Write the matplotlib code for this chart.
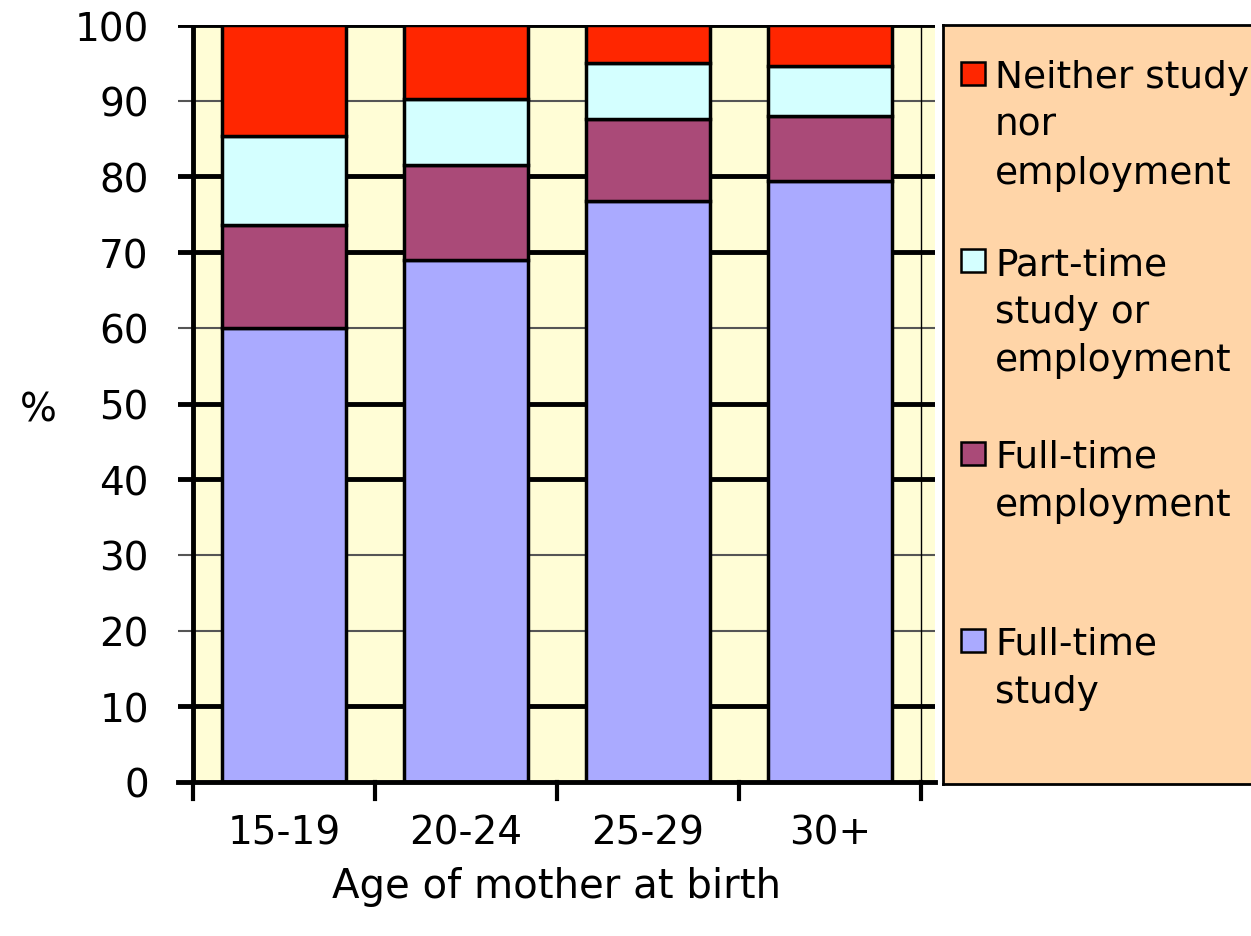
import numpy as np
import matplotlib
matplotlib.use("Agg")
import matplotlib.pyplot as plt
from matplotlib.patches import Rectangle

# %% data
ages = ["15-19", "20-24", "25-29", "30+"]
series = ["Full-time\nstudy", "Full-time\nemployment",
          "Part-time\nstudy or\nemployment", "Neither study\nnor\nemployment"]
ft_study = [60.0, 69.0, 76.7, 79.4]
ft_employ = [13.6, 12.5, 10.9, 8.6]
pt_study_employ = [11.8, 8.7, 7.4, 6.6]
neither = [14.6, 9.8, 5.0, 5.4]
colors = ["#AAAAFF", "#AA4A78", "#D4FFFF", "#FF2600"]

plt.rcParams['font.family'] = ['DejaVu Sans']

W, H = 1251, 937
fig = plt.figure(figsize=(W / 100, H / 100), dpi=100)

# plot area in pixel terms of the reference
left, right, top, bottom = 178, 935, 26, 783
ax = fig.add_axes([left / W, 1 - bottom / H, (right - left) / W, (bottom - top) / H])
ax.set_facecolor("#FFFDD6")
x = np.arange(len(ages))
xmin = -0.5 - 15 / 182
xmax = xmin + (right - left) / 182
ax.set_xlim(xmin, xmax)
ax.set_ylim(0, 100)
ax.axvspan(xmin, -0.5, color="white", zorder=0)

# horizontal grid, some thick some thin as in the original
for yv in range(10, 101, 10):
    if yv in (20, 30, 60, 90):
        ax.axhline(yv, color="#555555", lw=1.5, zorder=1)
    else:
        ax.axhline(yv, color="black", lw=3.5, zorder=1)
ax.axvline(-0.5, color="black", lw=3.5, zorder=1)
ax.axvline(3.5, color="black", lw=1, zorder=1)

stack = [ft_study, ft_employ, pt_study_employ, neither]
base = np.zeros(len(ages))
for vals, col in zip(stack, colors):
    ax.bar(x, vals, bottom=base, width=0.676, color=col,
           edgecolor="black", linewidth=2.5, zorder=2)
    base = base + np.array(vals)

for s in ax.spines.values():
    s.set_visible(False)
ax.axhline(0, color="black", lw=3.5, zorder=3, clip_on=False)

ax.set_yticks(range(0, 101, 10))
ax.tick_params(axis="y", length=0, labelsize=28, pad=21)
ax.set_xticks(x)
ax.set_xticklabels(ages)
ax.tick_params(axis="x", length=0, labelsize=28, pad=23)
for b in np.arange(-0.5, len(ages), 1.0):
    ax.plot([b, b], [0, -2.2], color="black", lw=3, clip_on=False, zorder=3)

ax.set_xlabel("Age of mother at birth", fontsize=29, labelpad=10)
fig.text(38 / W, 1 - 410 / H, "%", fontsize=28, ha="center", va="center")

# legend box drawn by hand
lg = fig.add_axes([943 / W, 1 - 785 / H, (W - 943) / W + 0.01, (785 - 26) / H])
lg.set_xlim(0, 1)
lg.set_ylim(1, 0)
lg.set_facecolor("#FFD5A8")
for s in lg.spines.values():
    s.set_color("black")
    s.set_linewidth(2)
lg.set_xticks([])
lg.set_yticks([])
ph = 785 - 26
pw = W - 943
baselines = [655, 468, 275, 88]
for lab, col, by in zip(series, colors, baselines):
    yy = (by - 26) / ph
    lg.add_patch(Rectangle((17 / pw, yy - 25 / ph), 23 / pw, 23 / ph,
                           facecolor=col, edgecolor="black", lw=1.8))
    for i, line in enumerate(lab.split("\n")):
        lg.text(50 / pw, yy + i * 48 / ph, line, fontsize=27,
                va="baseline", ha="left")

fig.savefig("out.png", dpi=100)
